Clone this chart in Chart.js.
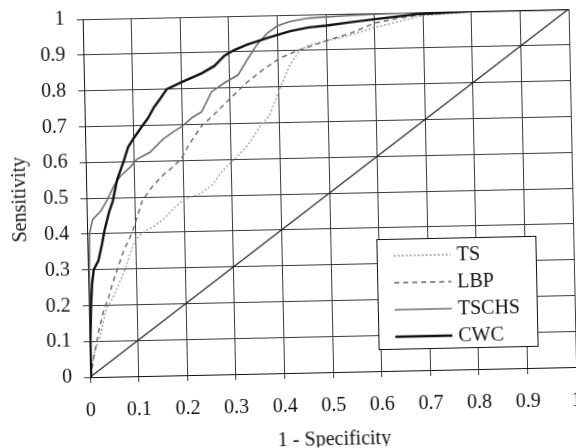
<!DOCTYPE html>
<html>
<head>
<meta charset="utf-8">
<title>ROC curves</title>
<script src="https://cdn.jsdelivr.net/npm/chart.js@4.4.1/dist/chart.umd.min.js"></script>
<style>
  html, body { margin: 0; padding: 0; background: #fff; overflow: hidden; }
  /* the scanned figure sits slightly tilted */
  #roc { display: block; transform: rotate(-1.2deg); transform-origin: 50% 50%; }
</style>
</head>
<body>
<canvas id="roc" width="576" height="448"></canvas>
<script>
// legend order, top to bottom
const seriesNames = ['TS', 'LBP', 'TSCHS', 'CWC']

const xTickLabels = ['0', '0.1', '0.2', '0.3', '0.4', '0.5', '0.6', '0.7', '0.8', '0.9', '1']
const yTickLabels = ['0', '0.1', '0.2', '0.3', '0.4', '0.5', '0.6', '0.7', '0.8', '0.9', '1']

// 1 - specificity (x) / sensitivity (y)
const tsX = [0, 0.005, 0.012, 0.02, 0.036, 0.05, 0.064, 0.078, 0.088, 0.099, 0.11, 0.12, 0.14, 0.16, 0.18, 0.2, 0.233, 0.26, 0.28, 0.31, 0.335, 0.36, 0.38, 0.403, 0.424, 0.445, 0.465, 0.5, 0.55, 0.6, 0.65, 0.7, 0.8, 1]
const tsY = [0, 0.04, 0.08, 0.1, 0.19, 0.22, 0.26, 0.305, 0.345, 0.38, 0.395, 0.405, 0.42, 0.44, 0.468, 0.49, 0.505, 0.53, 0.567, 0.605, 0.64, 0.69, 0.72, 0.795, 0.86, 0.9, 0.915, 0.925, 0.94, 0.96, 0.975, 0.99, 0.998, 1]

const lbpX = [0, 0.005, 0.01, 0.02, 0.031, 0.041, 0.05, 0.062, 0.074, 0.085, 0.095, 0.105, 0.115, 0.135, 0.16, 0.18, 0.197, 0.214, 0.24, 0.265, 0.3, 0.336, 0.37, 0.405, 0.44, 0.47, 0.51, 0.55, 0.6, 0.65, 0.7, 0.8, 1]
const lbpY = [0, 0.03, 0.066, 0.13, 0.187, 0.22, 0.26, 0.305, 0.35, 0.38, 0.41, 0.45, 0.49, 0.527, 0.562, 0.583, 0.605, 0.645, 0.695, 0.725, 0.77, 0.815, 0.85, 0.88, 0.9, 0.912, 0.93, 0.945, 0.972, 0.985, 0.993, 1, 1]

const tschsX = [0, 0.002, 0.003, 0.005, 0.008, 0.012, 0.03, 0.043, 0.058, 0.071, 0.092, 0.105, 0.133, 0.16, 0.181, 0.2, 0.222, 0.241, 0.262, 0.29, 0.317, 0.338, 0.358, 0.379, 0.4, 0.427, 0.465, 0.55, 0.7, 1]
const tschsY = [0, 0.1, 0.3, 0.4, 0.42, 0.44, 0.465, 0.495, 0.535, 0.56, 0.585, 0.605, 0.625, 0.66, 0.68, 0.695, 0.72, 0.735, 0.79, 0.815, 0.835, 0.88, 0.92, 0.95, 0.97, 0.982, 0.99, 0.995, 1, 1]

const cwcX = [0, 0.002, 0.005, 0.008, 0.012, 0.022, 0.03, 0.036, 0.046, 0.054, 0.064, 0.078, 0.088, 0.1, 0.116, 0.13, 0.143, 0.157, 0.17, 0.2, 0.242, 0.269, 0.29, 0.31, 0.338, 0.379, 0.427, 0.465, 0.5, 0.55, 0.6, 0.69, 0.8, 1]
const cwcY = [0, 0.1, 0.2, 0.26, 0.3, 0.325, 0.37, 0.41, 0.46, 0.49, 0.55, 0.6, 0.64, 0.665, 0.695, 0.72, 0.75, 0.775, 0.8, 0.818, 0.842, 0.862, 0.89, 0.905, 0.92, 0.937, 0.955, 0.964, 0.968, 0.976, 0.983, 0.995, 1, 1]

// chance diagonal
const chanceX = [0, 1]
const chanceY = [0, 1]

const toPoints = (xs, ys) => xs.map((x, i) => ({ x: x, y: ys[i] }))

const serif = 'Liberation Serif'
Chart.defaults.font.family = serif
Chart.defaults.color = '#111'

// legend drawn as a boxed panel inside the plot, lower right
const legendBox = {
  id: 'legendBox',
  afterDatasetsDraw(chart) {
    const { ctx, chartArea } = chart
    const w = 159
    const h = 110
    const left = chartArea.right - 38 - w
    const top = chartArea.bottom - 22 - h
    ctx.save()
    ctx.fillStyle = '#fff'
    ctx.fillRect(left, top, w, h)
    ctx.strokeStyle = '#111'
    ctx.lineWidth = 1
    ctx.strokeRect(left + 0.5, top + 0.5, w, h)
    ctx.font = '20px "' + serif + '"'
    ctx.textBaseline = 'middle'
    seriesNames.forEach((name, i) => {
      const ds = chart.data.datasets.find(d => d.label === name)
      const y = top + 17 + i * 27
      ctx.strokeStyle = ds.borderColor
      ctx.lineWidth = ds.borderWidth
      ctx.setLineDash(ds.borderDash || [])
      ctx.beginPath()
      ctx.moveTo(left + 17, y)
      ctx.lineTo(left + 74, y)
      ctx.stroke()
      ctx.setLineDash([])
      ctx.fillStyle = '#111'
      ctx.fillText(name, left + 80, y + 1)
    })
    ctx.restore()
  }
}

const ctx = document.getElementById('roc').getContext('2d')
const rocChart = new Chart(ctx, {
  type: 'scatter',
  data: {
    datasets: [
      { label: 'CWC', data: toPoints(cwcX, cwcY), borderColor: '#111', borderWidth: 2.4 },
      { label: 'TSCHS', data: toPoints(tschsX, tschsY), borderColor: '#6e6e6e', borderWidth: 1.6 },
      { label: 'LBP', data: toPoints(lbpX, lbpY), borderColor: '#666', borderWidth: 1.4, borderDash: [5, 4] },
      { label: 'TS', data: toPoints(tsX, tsY), borderColor: '#999', borderWidth: 1.3, borderDash: [2, 2] },
      { label: 'chance', data: toPoints(chanceX, chanceY), borderColor: '#222', borderWidth: 1.2 }
    ].map(ds => Object.assign(ds, { showLine: true, pointRadius: 0, tension: 0, fill: false }))
  },
  options: {
    responsive: false,
    animation: false,
    devicePixelRatio: 1,
    layout: { padding: { top: 15, right: 3, left: 0, bottom: 0 } },
    scales: {
      x: {
        type: 'linear',
        min: 0,
        max: 1,
        ticks: {
          stepSize: 0.1,
          padding: 16,
          maxRotation: 0,
          autoSkip: false,
          font: { size: 20 },
          callback: (v, i) => xTickLabels[i]
        },
        grid: { color: '#3a3a3a', lineWidth: 1, tickLength: 6 },
        border: { color: '#111', width: 1 },
        title: {
          display: true,
          text: '1 - Specificity',
          font: { size: 20 },
          padding: { top: 0, bottom: -5 }
        },
        // the last tick label is allowed to run off the edge, as in the figure
        afterFit: s => {
          s.height = 75
          s.paddingLeft = 0
          s.paddingRight = 0
        }
      },
      y: {
        type: 'linear',
        min: 0,
        max: 1,
        ticks: {
          stepSize: 0.1,
          padding: 12,
          font: { size: 20 },
          callback: (v, i) => yTickLabels[i]
        },
        grid: { color: '#3a3a3a', lineWidth: 1, tickLength: 6 },
        border: { color: '#111', width: 1 },
        title: {
          display: true,
          text: 'Sensitivity',
          font: { size: 20 },
          padding: { top: 9, bottom: 0 }
        },
        afterFit: s => {
          s.width = 87
          s.paddingTop = 0
          s.paddingBottom = 0
        }
      }
    },
    plugins: {
      legend: { display: false },
      tooltip: { enabled: false }
    }
  },
  plugins: [legendBox]
})
</script>
</body>
</html>
